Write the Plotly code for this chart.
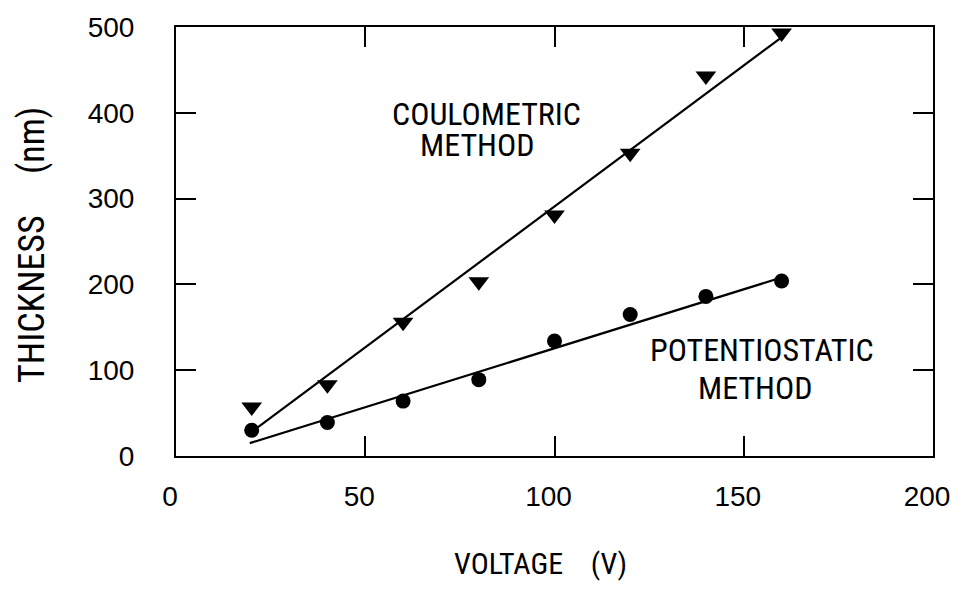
import plotly.graph_objects as go

# ---- data ----
voltage = [20, 40, 60, 80, 100, 120, 140, 160]
coulometric = [57, 83, 156, 203, 281, 353, 443, 493]
potentiostatic = [30, 39, 64, 89, 134, 165, 186, 204]

coul_fit_x = [21.5, 160]
coul_fit_y = [33, 488]
pot_fit_x = [19.5, 160]
pot_fit_y = [15, 208]

x_ticks = [0, 50, 100, 150, 200]
y_ticks = [0, 100, 200, 300, 400, 500]

COND = "Roboto Condensed, Liberation Sans, Arial, sans-serif"
REG = "Liberation Sans, Arial, sans-serif"

fig = go.Figure()
fig.add_trace(go.Scatter(x=coul_fit_x, y=coul_fit_y, mode="lines",
                         line=dict(color="black", width=2.2), showlegend=False,
                         hoverinfo="skip"))
fig.add_trace(go.Scatter(x=pot_fit_x, y=pot_fit_y, mode="lines",
                         line=dict(color="black", width=2.2), showlegend=False,
                         hoverinfo="skip"))
fig.add_trace(go.Scatter(x=voltage, y=coulometric, mode="markers",
                         marker=dict(symbol="triangle-down", size=18, color="black"),
                         name="Coulometric", showlegend=False))
fig.add_trace(go.Scatter(x=voltage, y=potentiostatic, mode="markers",
                         marker=dict(symbol="circle", size=15, color="black"),
                         name="Potentiostatic", showlegend=False))

axis_common = dict(
    showline=True, linecolor="black", linewidth=2, mirror="ticks",
    ticks="inside", ticklen=20, tickwidth=2, tickcolor="black",
    showgrid=False, zeroline=False,
    tickfont=dict(family=REG, size=28, color="black"),
)

fig.update_xaxes(range=[0, 200], tickvals=x_ticks, ticktext=[str(v) for v in x_ticks],
                 ticklabelstandoff=14, ticklabelshift=-6, **axis_common)
fig.update_yaxes(range=[0, 500], tickvals=y_ticks, ticktext=[str(v) for v in y_ticks],
                 ticklabelstandoff=34, **axis_common)

txt_font = dict(family=COND, size=32, color="black")
ann = []
ann.append(dict(x=82, y=399, text="COULOMETRIC", showarrow=False, font=txt_font))
ann.append(dict(x=79.5, y=363, text="METHOD", showarrow=False, font=txt_font))
ann.append(dict(x=154.7, y=124, text="POTENTIOSTATIC", showarrow=False, font=txt_font))
ann.append(dict(x=152.9, y=79, text="METHOD", showarrow=False, font=txt_font))
# axis titles
ann.append(dict(xref="paper", yref="paper", x=0.482, y=0, yshift=-107,
                xanchor="center", yanchor="middle", showarrow=False,
                text="VOLTAGE\u00a0\u00a0\u00a0\u00a0(V)",
                font=dict(family=COND, size=30, color="black")))
ann.append(dict(xref="paper", yref="paper", x=0, y=0.492, xshift=-144,
                xanchor="center", yanchor="middle", showarrow=False, textangle=-90,
                text="THICKNESS\u00a0\u00a0\u00a0\u00a0\u00a0(nm)",
                font=dict(family=COND, size=36, color="black")))

fig.update_layout(
    width=962, height=597,
    margin=dict(l=176, r=29, t=27, b=141),
    paper_bgcolor="white", plot_bgcolor="white",
    annotations=ann,
    showlegend=False,
)

fig.write_html(
    "out.html",
    config={"displayModeBar": False},
    post_script="document.body.style.margin='0px';document.body.style.padding='0px';"
                "document.body.style.overflow='hidden';document.documentElement.style.overflow='hidden';",
)
